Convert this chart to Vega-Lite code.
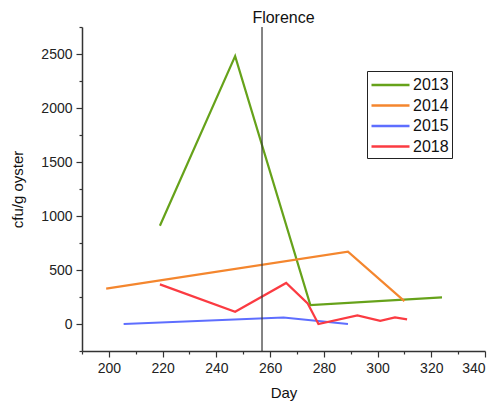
{
  "$schema": "https://vega.github.io/schema/vega-lite/v6.json",
  "autosize": {"type": "none"},
  "width": 403,
  "height": 324,
  "padding": {"left": 82, "top": 27, "right": 12, "bottom": 51},
  "background": "white",
  "config": {
    "font": "Liberation Sans",
    "view": {"stroke": null},
    "axis": {"grid": false, "domainColor": "#333", "domainWidth": 1.5, "tickColor": "#333", "tickWidth": 1.2, "labelColor": "#222", "titleColor": "#111", "titleFontWeight": "normal", "labelFontSize": 14, "titleFontSize": 15, "labelOverlap": false}
  },
  "title": {"text": "Florence", "fontSize": 16, "fontWeight": "normal", "color": "#111", "offset": 0, "dy": 6, "anchor": "middle"},
  "resolve": {"axis": {"x": "independent"}},
  "layer": [
    {
      "data": {"values": [
        {"Day": 219, "cfu": 910, "Year": "2013"},
        {"Day": 247, "cfu": 2480, "Year": "2013"},
        {"Day": 275, "cfu": 176, "Year": "2013"},
        {"Day": 324, "cfu": 247, "Year": "2013"},
        {"Day": 199, "cfu": 327, "Year": "2014"},
        {"Day": 289, "cfu": 670, "Year": "2014"},
        {"Day": 310, "cfu": 212, "Year": "2014"},
        {"Day": 205.5, "cfu": 0, "Year": "2015"},
        {"Day": 265, "cfu": 60, "Year": "2015"},
        {"Day": 289, "cfu": 0, "Year": "2015"},
        {"Day": 219, "cfu": 367, "Year": "2018"},
        {"Day": 247, "cfu": 114, "Year": "2018"},
        {"Day": 266, "cfu": 380, "Year": "2018"},
        {"Day": 274, "cfu": 190, "Year": "2018"},
        {"Day": 278, "cfu": 0, "Year": "2018"},
        {"Day": 292.5, "cfu": 80, "Year": "2018"},
        {"Day": 301, "cfu": 30, "Year": "2018"},
        {"Day": 306.5, "cfu": 62, "Year": "2018"},
        {"Day": 311, "cfu": 43, "Year": "2018"}
      ]},
      "mark": {"type": "line", "strokeWidth": 2.2},
      "encoding": {
        "x": {"field": "Day", "type": "quantitative", "scale": {"domain": [190, 340], "nice": false, "zero": false},
          "axis": {"orient": "bottom", "title": null, "labels": false, "domain": false, "values": [190, 210, 230, 250, 270, 290, 310, 330], "tickSize": 3}},
        "y": {"field": "cfu", "type": "quantitative", "scale": {"domain": [-250, 2750], "nice": false, "zero": false},
          "axis": {"title": "cfu/g oyster", "values": [-250, 0, 250, 500, 750, 1000, 1250, 1500, 1750, 2000, 2250, 2500, 2750],
            "labelExpr": "(datum.value % 500 == 0) ? datum.label : ''",
            "tickSize": {"condition": {"test": "datum.value % 500 == 0", "value": 6}, "value": 3},
            "format": "d", "labelPadding": 4, "titlePadding": 15}},
        "color": {"field": "Year", "type": "nominal",
          "scale": {"domain": ["2013", "2014", "2015", "2018"], "range": ["#66a21a", "#f4862e", "#5e6eff", "#fb3b42"]},
          "legend": {"title": null, "orient": "none", "legendX": 285, "legendY": 44, "symbolType": "M-1,0L3,0", "symbolSize": 361, "symbolStrokeWidth": 2.5,
            "labelFontSize": 16, "labelColor": "#111", "strokeColor": "#222", "padding": 3, "rowPadding": 1.5, "labelOffset": 21, "cornerRadius": 0}}
      }
    },
    {
      "data": {"values": [{"Day": 257}]},
      "mark": {"type": "rule", "color": "#333", "strokeWidth": 1.2},
      "encoding": {"x": {"field": "Day", "type": "quantitative",
        "axis": {"orient": "bottom", "title": "Day", "values": [200, 220, 240, 260, 280, 300, 320, 340], "tickSize": 6, "labelPadding": 4, "titlePadding": 10}}}
    }
  ]
}
